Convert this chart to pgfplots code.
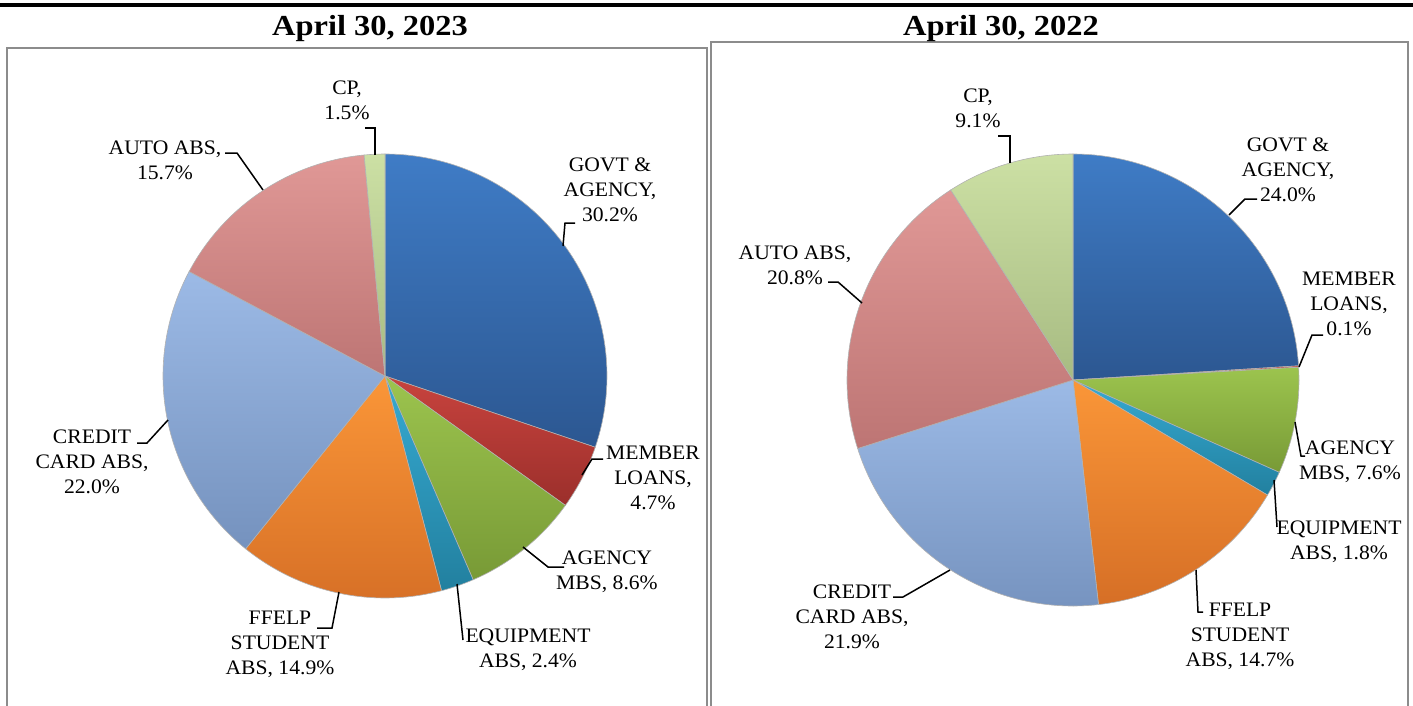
\documentclass[border=0pt]{standalone}
\usepackage{fontspec}
\setmainfont{Liberation Serif}
\newfontfamily\titlefont[FakeStretch=1.12]{Liberation Serif}
\newfontfamily\labfont[FakeStretch=1.05]{Liberation Serif}
\usepackage{pgfplots}
\usepackage{pgfplotstable}
\pgfplotsset{compat=1.18}

% slice order: GOVT & AGENCY, MEMBER LOANS, AGENCY MBS, EQUIPMENT ABS,
% FFELP STUDENT ABS, CREDIT CARD ABS, AUTO ABS, CP
\pgfplotstableread{
idx value
0 30.2
1 4.7
2 8.6
3 2.4
4 14.9
5 22.0
6 15.7
7 1.5
}\piethree
\pgfplotstableread{
idx value
0 24.0
1 0.1
2 7.6
3 1.8
4 14.7
5 21.9
6 20.8
7 9.1
}\pietwo

\newcommand\pieangles[2]{%
  \gdef\cumval{0}%
  \foreach \i in {0,...,7}{%
    \pgfplotstablegetelem{\i}{value}\of{#1}%
    \pgfmathsetmacro\sa{90-3.6*\cumval}%
    \pgfmathsetmacro\nc{\cumval+\pgfplotsretval}%
    \pgfmathsetmacro\ea{90-3.6*\nc}%
    \expandafter\xdef\csname #2s\i\endcsname{\sa}%
    \expandafter\xdef\csname #2e\i\endcsname{\ea}%
    \xdef\cumval{\nc}%
  }%
}
\pieangles{\piethree}{A}
\pieangles{\pietwo}{B}

\definecolor{cT0}{HTML}{3F7CC6}\definecolor{cB0}{HTML}{2C5791}
\definecolor{cT1}{HTML}{C8433E}\definecolor{cB1}{HTML}{9B2F2B}
\definecolor{cT2}{HTML}{9CC44E}\definecolor{cB2}{HTML}{789A36}
\definecolor{cT3}{HTML}{36AAD2}\definecolor{cB3}{HTML}{22809F}
\definecolor{cT4}{HTML}{FA9638}\definecolor{cB4}{HTML}{D66F26}
\definecolor{cT5}{HTML}{9CBAE6}\definecolor{cB5}{HTML}{7592BE}
\definecolor{cT6}{HTML}{E09896}\definecolor{cB6}{HTML}{BD7574}
\definecolor{cT7}{HTML}{CCE0A4}\definecolor{cB7}{HTML}{A7BB82}
\definecolor{frameGray}{HTML}{8C8C8C}

\begin{document}
\begin{tikzpicture}[
  lab/.style={align=center, inner sep=0pt, font=\labfont\fontsize{10.3}{12.5}\selectfont},
  ttl/.style={anchor=base, inner sep=0pt, font=\titlefont\fontsize{14.5}{16}\selectfont\bfseries},
  lead/.style={line width=0.75pt, black},
]
\begin{axis}[
  x=0.5pt, y=0.5pt,
  xmin=0, xmax=1413, ymin=0, ymax=706,
  y dir=reverse,
  hide axis, clip=false,
]
% top rule and frames
\draw[line width=2pt] (axis cs:0,5) -- (axis cs:1413,5);
\draw[frameGray, line width=1.2pt] (axis cs:7,706) -- (axis cs:7,48) -- (axis cs:707,48) -- (axis cs:707,706);
\draw[frameGray, line width=1.2pt] (axis cs:711,706) -- (axis cs:711,42) -- (axis cs:1408,42) -- (axis cs:1408,706);
\node[ttl] at (axis cs:370,36) {April 30, 2023};
\node[ttl] at (axis cs:1001,36) {April 30, 2022};

% pies
\pgfplotsinvokeforeach{0,...,7}{
  \path[top color=cT#1, bottom color=cB#1, draw=black!30, line width=0.3pt]
    (axis cs:385,376) -- ++(\csname As#1\endcsname:111pt)
    arc[start angle=\csname As#1\endcsname, end angle=\csname Ae#1\endcsname, radius=111pt] -- cycle;
  \path[top color=cT#1, bottom color=cB#1, draw=black!30, line width=0.3pt]
    (axis cs:1073,380) -- ++(\csname Bs#1\endcsname:113pt)
    arc[start angle=\csname Bs#1\endcsname, end angle=\csname Be#1\endcsname, radius=113pt] -- cycle;
}

% left labels
\node[lab] at (axis cs:610,190) {GOVT \&\\AGENCY,\\30.2\%};
\draw[lead] (axis cs:563,246) -- (axis cs:565,223) -- (axis cs:575,223);
\node[lab] at (axis cs:653,478) {MEMBER\\LOANS,\\4.7\%};
\draw[lead] (axis cs:582,475) -- (axis cs:592,459) -- (axis cs:603,459);
\node[lab] at (axis cs:607,572) {AGENCY\\MBS, 8.6\%};
\draw[lead] (axis cs:523,547) -- (axis cs:548,567) -- (axis cs:564,567);
\node[lab] at (axis cs:528,650) {EQUIPMENT\\ABS, 2.4\%};
\draw[lead] (axis cs:457,584) -- (axis cs:463,640);
\node[lab] at (axis cs:280,644) {FFELP\\STUDENT\\ABS, 14.9\%};
\draw[lead] (axis cs:339,592) -- (axis cs:332,628) -- (axis cs:317,628);
\node[lab] at (axis cs:92,462) {CREDIT\\CARD ABS,\\22.0\%};
\draw[lead] (axis cs:168,420) -- (axis cs:147,443) -- (axis cs:137,443);
\node[lab] at (axis cs:165,160) {AUTO ABS,\\15.7\%};
\draw[lead] (axis cs:263,190) -- (axis cs:237,153) -- (axis cs:225,153);
\node[lab] at (axis cs:347,100) {CP,\\1.5\%};
\draw[lead] (axis cs:375,155) -- (axis cs:375,128) -- (axis cs:365,128);

% right labels
\node[lab] at (axis cs:1288,170) {GOVT \&\\AGENCY,\\24.0\%};
\draw[lead] (axis cs:1229,215) -- (axis cs:1245,199) -- (axis cs:1257,199);
\node[lab] at (axis cs:1349,304) {MEMBER\\LOANS,\\0.1\%};
\draw[lead] (axis cs:1299,367) -- (axis cs:1312,335) -- (axis cs:1323,335);
\node[lab] at (axis cs:1350,462) {AGENCY\\MBS, 7.6\%};
\draw[lead] (axis cs:1295,422) -- (axis cs:1301,456) -- (axis cs:1305,456);
\node[lab] at (axis cs:1339,542) {EQUIPMENT\\ABS, 1.8\%};
\draw[lead] (axis cs:1274,480) -- (axis cs:1277,527);
\node[lab] at (axis cs:1240,636) {FFELP\\STUDENT\\ABS, 14.7\%};
\draw[lead] (axis cs:1196,570) -- (axis cs:1198,612) -- (axis cs:1203,612);
\node[lab] at (axis cs:852,617) {CREDIT\\CARD ABS,\\21.9\%};
\draw[lead] (axis cs:950,570) -- (axis cs:903,597) -- (axis cs:893,597);
\node[lab] at (axis cs:795,265) {AUTO ABS,\\20.8\%};
\draw[lead] (axis cs:862,303) -- (axis cs:838,282) -- (axis cs:828,282);
\node[lab] at (axis cs:978,108) {CP,\\9.1\%};
\draw[lead] (axis cs:1010,163) -- (axis cs:1010,136) -- (axis cs:998,136);
\end{axis}
\pgfresetboundingbox
\useasboundingbox (current axis.south west) rectangle (current axis.north east);
\end{tikzpicture}
\end{document}
